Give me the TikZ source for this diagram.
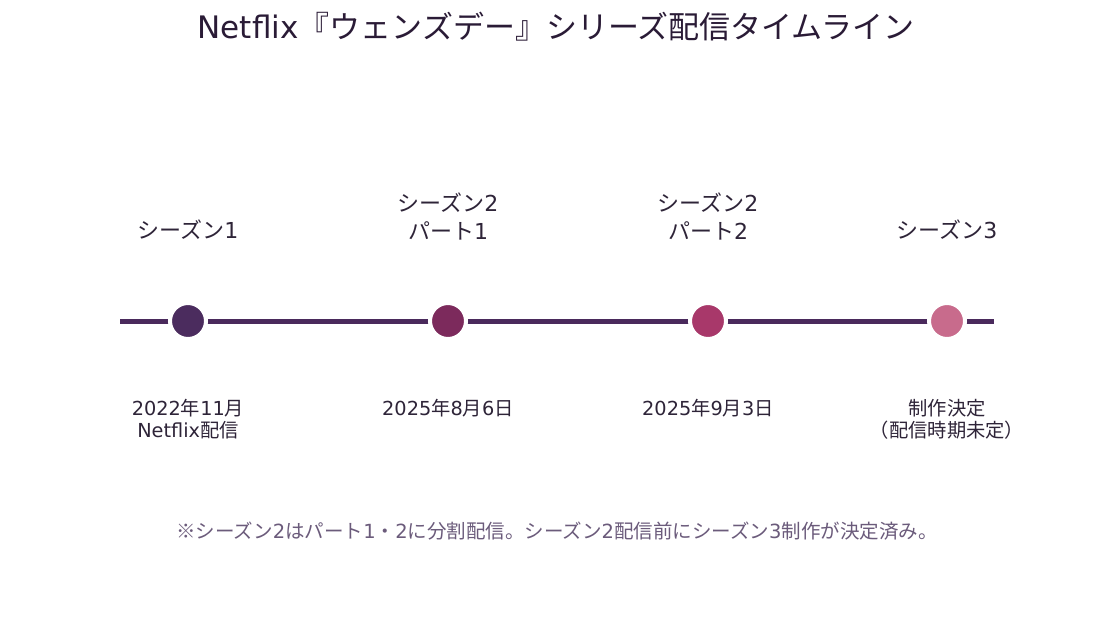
\documentclass[tikz,border=0pt]{standalone}
\usepackage{fontspec}
\setmainfont{Noto Sans CJK JP}
\newfontfamily\latn{DejaVu Sans}
\newcommand{\lt}[1]{{\latn #1}}
\begin{document}
\begin{tikzpicture}[x=1pt,y=-1pt,
  titletext/.style={font=\fontsize{31}{38}\selectfont, text=titlecol},
  toplabel/.style={font=\fontsize{22}{28}\selectfont, text=labelcol, align=center, anchor=south, inner sep=0pt},
  datelabel/.style={font=\fontsize{19.3}{22.5}\selectfont, text=labelcol, align=center, anchor=north, inner sep=0pt},
  notetext/.style={font=\fontsize{19.5}{23}\selectfont, text=notecol},
  dot/.style={circle, minimum size=36pt, inner sep=0pt, draw=white, line width=4pt}]
\definecolor{titlecol}{HTML}{2A1B36}
\definecolor{labelcol}{HTML}{2E2438}
\definecolor{notecol}{HTML}{6B5B7B}
\definecolor{linecol}{HTML}{4A2A5C}
\definecolor{c1}{HTML}{4B2C5E}
\definecolor{c2}{HTML}{7C2A5C}
\definecolor{c3}{HTML}{A8386A}
\definecolor{c4}{HTML}{C86B8C}
\useasboundingbox[fill=white] (0,0) rectangle (1113,643);
\node[titletext] (title) at (556,27) {\lt{Netflix}『ウェンズデー』シリーズ配信タイムライン};
\coordinate (ls) at (120,321);
\coordinate (le) at (994,321);
\draw[linecol, line width=5pt] (ls) -- (le);
\node[dot, fill=c1] (d1) at (188,321) {};
\node[dot, fill=c2] (d2) at (448,321) {};
\node[dot, fill=c3] (d3) at (708,321) {};
\node[dot, fill=c4] (d4) at (947,321) {};
\node[toplabel] (t1) at (188,240) {シーズン\lt{1}};
\node[toplabel] (t2) at (448,240) {シーズン\lt{2}\\パート\lt{1}};
\node[toplabel] (t3) at (708,240) {シーズン\lt{2}\\パート\lt{2}};
\node[toplabel] (t4) at (947,240) {シーズン\lt{3}};
\node[datelabel] (b1) at (188,399) {\lt{2022}年\lt{11}月\\\lt{Netflix}配信};
\node[datelabel] (b2) at (448,399) {\lt{2025}年\lt{8}月\lt{6}日};
\node[datelabel] (b3) at (708,399) {\lt{2025}年\lt{9}月\lt{3}日};
\node[datelabel] (b4) at (947,399) {制作決定\\（配信時期未定）};
\node[notetext] (note) at (557,531) {※シーズン\lt{2}はパート\lt{1}・\lt{2}に分割配信。シーズン\lt{2}配信前にシーズン\lt{3}制作が決定済み。};
\end{tikzpicture}
\end{document}
